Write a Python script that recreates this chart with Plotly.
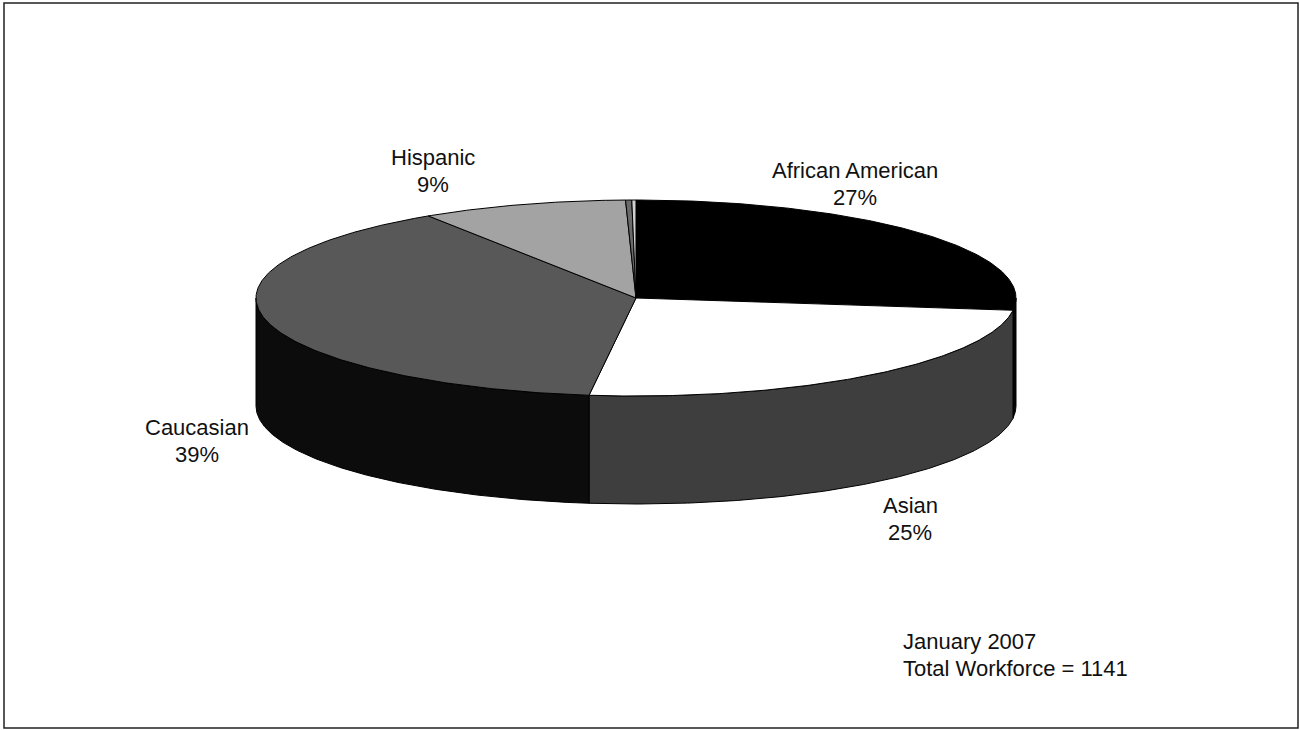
import numpy as np
import plotly.graph_objects as go

# ---- data ----
categories = ["African American", "Asian", "Caucasian", "Hispanic", "Native American", "Other"]
counts = [308, 285, 443, 100, 3, 2]
show_label = [True, True, True, True, False, False]
total_label = "January 2007"
total_text = "Total Workforce"

# ---- style ----
top_colors = ["#000000", "#ffffff", "#585858", "#a3a3a3", "#6a6a6a", "#d0d0d0"]
side_colors = ["#050505", "#3e3e3e", "#0c0c0c", "#555555", "#333333", "#777777"]
CX, CY, A, B, DEPTH = 636, 298, 380, 98, 108
FONT = "Liberation Sans, Arial, sans-serif"
FS = 22
LINE_GAP = 27

total = sum(counts)
fracs = np.array(counts) / total
bounds = np.concatenate([[0], np.cumsum(fracs)]) * 360.0


def ell(theta_deg, dy=0.0):
    t = np.radians(theta_deg)
    return CX + A * np.sin(t), CY - B * np.cos(t) + dy


fig = go.Figure()

# side faces (front half only: 90..270 deg)
for i in range(len(counts)):
    t1, t2 = bounds[i], bounds[i + 1]
    s1, s2 = max(t1, 90.0), min(t2, 270.0)
    if s2 <= s1:
        continue
    th = np.linspace(s1, s2, 200)
    xt, yt = ell(th)
    xb, yb = ell(th[::-1], DEPTH)
    xs = np.concatenate([xt, xb, xt[:1]])
    ys = np.concatenate([yt, yb, yt[:1]])
    fig.add_trace(go.Scatter(x=xs, y=ys, mode="lines", fill="toself",
                             fillcolor=side_colors[i],
                             line=dict(color="#000000", width=1),
                             hoverinfo="skip", showlegend=False))

# top faces
for i in range(len(counts)):
    t1, t2 = bounds[i], bounds[i + 1]
    th = np.linspace(t1, t2, max(int((t2 - t1) * 2), 4))
    xa, ya = ell(th)
    xs = np.concatenate([[CX], xa, [CX]])
    ys = np.concatenate([[CY], ya, [CY]])
    fig.add_trace(go.Scatter(x=xs, y=ys, mode="lines", fill="toself",
                             fillcolor=top_colors[i],
                             line=dict(color="#000000", width=1),
                             name=categories[i],
                             text=f"{categories[i]}: {counts[i]}",
                             hoverinfo="text", showlegend=False))


def add_text(x, y, s, anchor="center"):
    fig.add_annotation(x=x, y=y, xref="x", yref="y", showarrow=False,
                       text=s, xanchor=anchor, yanchor="middle",
                       font=dict(family=FONT, size=FS, color="#111111"))


# labels
label_pos = {"African American": (855, 170), "Asian": (910, 505),
             "Caucasian": (197, 427), "Hispanic": (433, 157)}
for i, cat in enumerate(categories):
    if not show_label[i]:
        continue
    x, y = label_pos[cat]
    pct = round(100 * counts[i] / total)
    add_text(x, y, cat)
    add_text(x, y + LINE_GAP, f"{pct}%")

add_text(901, 641, total_label, "left")
add_text(901, 641 + LINE_GAP, f"{total_text} = {total}", "left")

# frame
fig.add_shape(type="rect", xref="x", yref="y", x0=4, y0=3, x1=1298, y1=728,
              line=dict(color="#222222", width=1.5))

fig.update_xaxes(range=[0, 1300], visible=False, fixedrange=True)
fig.update_yaxes(range=[730, 0], visible=False, fixedrange=True)
fig.update_layout(width=1300, height=730, margin=dict(l=0, r=0, t=0, b=0),
                  paper_bgcolor="#ffffff", plot_bgcolor="#ffffff")

fig.write_html("out.html")
